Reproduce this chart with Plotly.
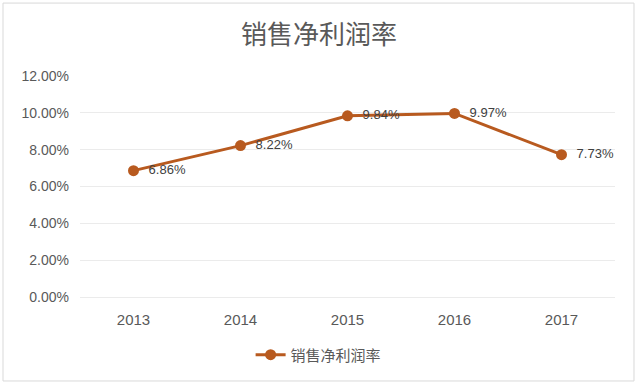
import plotly.graph_objects as go

years = ["2013", "2014", "2015", "2016", "2017"]
margin_rate = [0.0686, 0.0822, 0.0984, 0.0997, 0.0773]
label_text = ["6.86%", "8.22%", "9.84%", "9.97%", "7.73%"]
series_name = "销售净利润率"
title_text = "销售净利润率"

line_color = "#B85A1F"
text_gray = "#595959"
grid_color = "#EBEBEB"

fig = go.Figure()
fig.add_trace(go.Scatter(
    x=years, y=margin_rate, name=series_name,
    mode="lines+markers+text",
    text=["  " + t for t in label_text], textposition="middle right",
    textfont=dict(family="Liberation Sans, Noto Sans CJK SC", size=13, color="#404040"),
    line=dict(color=line_color, width=3),
    marker=dict(color=line_color, size=11),
    cliponaxis=False,
))

fig.update_layout(
    width=638, height=386,
    margin=dict(l=80, r=23, t=76, b=89, autoexpand=False),
    paper_bgcolor="white", plot_bgcolor="white",
    title=dict(text=title_text, x=0.5, xanchor="center", y=0.909, yanchor="middle",
               font=dict(family="Noto Sans CJK SC", size=26, color=text_gray)),
    showlegend=True,
    legend=dict(orientation="h", x=0.446, xanchor="center", y=-0.262, yanchor="middle",
                font=dict(family="Noto Sans CJK SC", size=15, color=text_gray),
                bgcolor="rgba(0,0,0,0)"),
    xaxis=dict(range=[-0.5, 4.5], showgrid=False, showline=False, zeroline=False, ticks="",
               automargin=False,
               tickfont=dict(family="Liberation Sans, Noto Sans CJK SC", size=15, color=text_gray),
               ticklabelstandoff=12),
    yaxis=dict(range=[0, 0.12], dtick=0.02, tickformat=".2%", automargin=False,
               showgrid=True, gridcolor=grid_color, gridwidth=1,
               zeroline=True, zerolinecolor=grid_color, zerolinewidth=1,
               showline=False, ticks="",
               tickfont=dict(family="Liberation Sans, Noto Sans CJK SC", size=14, color=text_gray),
               ticklabelstandoff=10),
    shapes=[dict(type="rect", xref="paper", yref="paper",
                 x0=-0.1439, x1=1.0355, y0=-0.380, y1=1.330,
                 line=dict(color="#D9D9D9", width=1), fillcolor="rgba(0,0,0,0)", layer="below")],
)

fig.write_html("out.html", config={"displayModeBar": False},
               post_script="document.body.style.margin='0';document.body.style.overflow='hidden';")
